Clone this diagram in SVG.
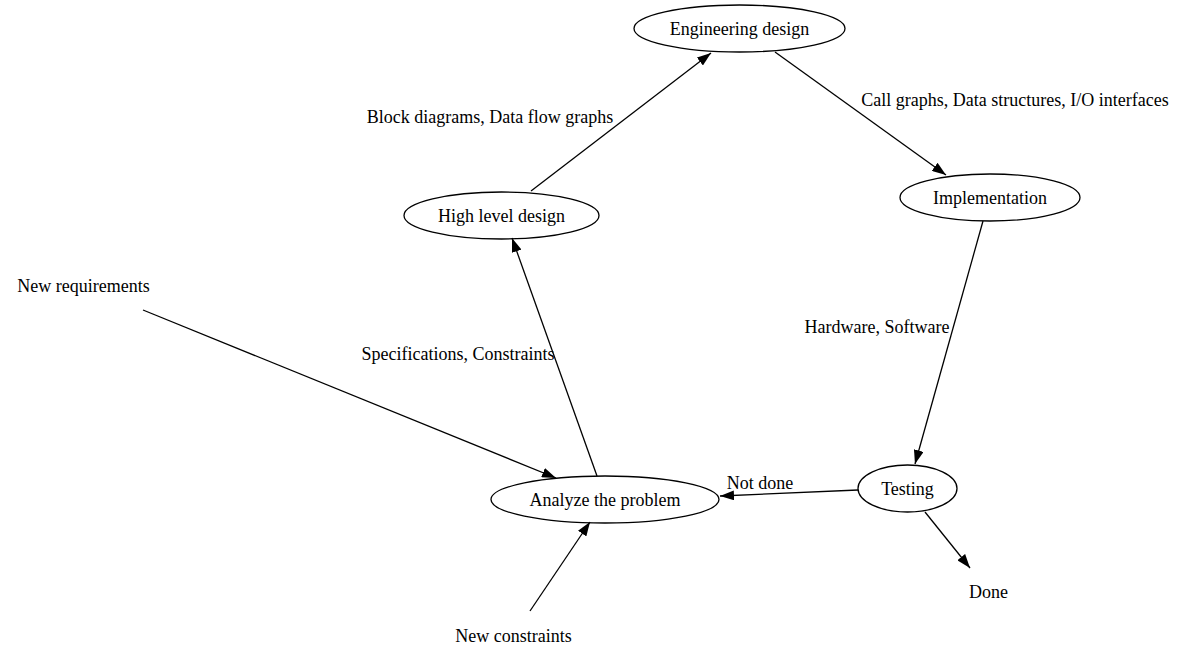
<svg xmlns="http://www.w3.org/2000/svg" width="1177" height="666" viewBox="0 0 1177 666">
<style>
.n ellipse{fill:none;stroke:#000;stroke-width:1.3}
text{font-family:"Liberation Serif","Times New Roman",serif;font-size:18px;fill:#000;text-anchor:middle}
.e line{stroke:#000;stroke-width:1.3}
</style>
<defs>
<marker id="ah" markerWidth="14" markerHeight="10" refX="14" refY="5" orient="auto" markerUnits="userSpaceOnUse">
<path d="M0,0 L14,5 L0,10 Z" fill="#000"/>
</marker>
</defs>
<rect width="1177" height="666" fill="#fff"/>
<g class="e" id="edges">
<line x1="531" y1="191" x2="711" y2="53" marker-end="url(#ah)"/>
<line x1="775" y1="52" x2="946" y2="175" marker-end="url(#ah)"/>
<line x1="983" y1="221" x2="915" y2="464" marker-end="url(#ah)"/>
<line x1="858" y1="490" x2="720" y2="496" marker-end="url(#ah)"/>
<line x1="925" y1="512" x2="970" y2="568" marker-end="url(#ah)"/>
<line x1="597" y1="476" x2="512" y2="238" marker-end="url(#ah)"/>
<line x1="143" y1="310" x2="556" y2="478" marker-end="url(#ah)"/>
<line x1="530" y1="611" x2="590" y2="522" marker-end="url(#ah)"/>
<text x="490" y="123">Block diagrams, Data flow graphs</text>
<text x="1015" y="106">Call graphs, Data structures, I/O interfaces</text>
<text x="877" y="333">Hardware, Software</text>
<text x="458" y="360">Specifications, Constraints</text>
<text x="760" y="489">Not done</text>
</g>
<g class="n" id="engineering"><ellipse cx="739.5" cy="28.5" rx="105.5" ry="23.5"/><text x="739.5" y="34.5">Engineering design</text></g>
<g class="n" id="highlevel"><ellipse cx="501.5" cy="215.5" rx="97.5" ry="23.5"/><text x="501.5" y="221.5">High level design</text></g>
<g class="n" id="implementation"><ellipse cx="990" cy="197.5" rx="90" ry="23.5"/><text x="990" y="203.5">Implementation</text></g>
<g class="n" id="testing"><ellipse cx="907.5" cy="488.5" rx="49.5" ry="23.5"/><text x="907.5" y="494.5">Testing</text></g>
<g class="n" id="analyze"><ellipse cx="605" cy="499.5" rx="114" ry="23.5"/><text x="605" y="505.5">Analyze the problem</text></g>
<g class="n" id="newreq"><text x="83.5" y="292">New requirements</text></g>
<g class="n" id="newcons"><text x="513.5" y="642">New constraints</text></g>
<g class="n" id="done"><text x="988.5" y="598">Done</text></g>
</svg>
